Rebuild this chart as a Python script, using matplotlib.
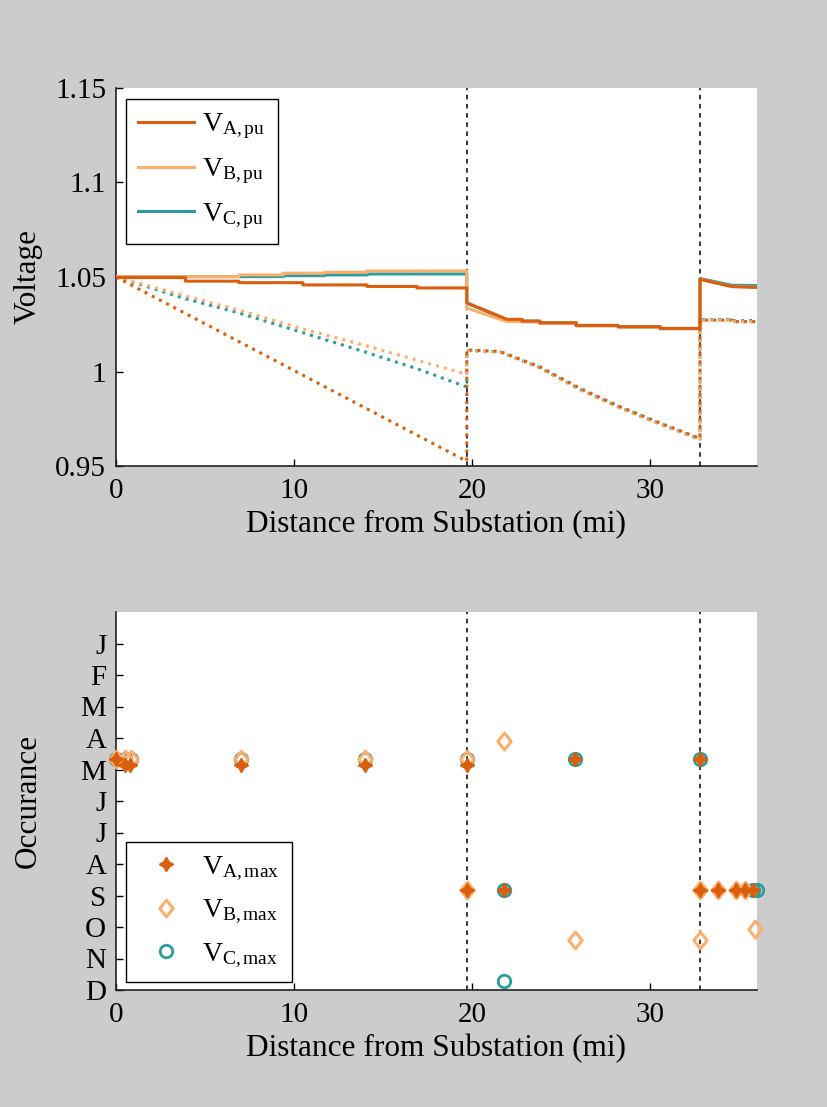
import numpy as np
import matplotlib.pyplot as plt
from matplotlib.path import Path

plt.rcParams['font.family'] = ['Liberation Serif', 'DejaVu Serif']
plt.rcParams['mathtext.fontset'] = 'custom'
plt.rcParams['mathtext.rm'] = 'Liberation Serif'
plt.rcParams['mathtext.it'] = 'Liberation Serif:italic'

c_a = '#d95f0e'
c_b = '#fdae6b'
c_c = '#2c9c9e'

# breaker / regulator positions (mi)
vlines = [19.7, 32.8]

# --- top panel: voltage profiles (solid = with control, dotted = without) ---
va_x = [0, 3.9, 3.9, 6.9, 6.9, 10.5, 10.5, 14.1, 14.1, 16.9, 16.9, 19.7, 19.7, 21.95,
        22.8, 22.8, 23.8, 23.8, 25.84, 25.84, 28.2, 28.2, 30.56, 30.56, 32.8, 32.8, 34.6, 36.0]
va_y = [1.0497, 1.0497, 1.0478, 1.0478, 1.0470, 1.0470, 1.0458, 1.0458, 1.0450, 1.0450,
        1.0442, 1.0442, 1.0364, 1.0276, 1.0276, 1.0267, 1.0267, 1.0258, 1.0258, 1.0244,
        1.0244, 1.0237, 1.0237, 1.0228, 1.0228, 1.0488, 1.0449, 1.0445]

vb_x = [0, 6.9, 6.9, 9.4, 9.4, 11.7, 11.7, 14.1, 14.1, 19.7, 19.7, 21.95,
        22.8, 22.8, 23.8, 23.8, 25.84, 25.84, 28.2, 28.2, 30.56, 30.56, 32.8, 32.8, 34.6, 36.0]
vb_y = [1.0502, 1.0502, 1.0511, 1.0511, 1.0520, 1.0520, 1.0525, 1.0525, 1.0532, 1.0532,
        1.0336, 1.0264, 1.0264, 1.0262, 1.0262, 1.0254, 1.0254, 1.0241, 1.0241, 1.0235,
        1.0235, 1.0226, 1.0226, 1.0488, 1.0450, 1.0446]

vc_x = [0, 6.9, 6.9, 9.4, 9.4, 11.7, 11.7, 14.1, 14.1, 19.7, 19.7, 21.95,
        22.8, 22.8, 23.8, 23.8, 25.84, 25.84, 28.2, 28.2, 30.56, 30.56, 32.8, 32.8, 34.6, 36.0]
vc_y = [1.0502, 1.0502, 1.0502, 1.0502, 1.0507, 1.0507, 1.0511, 1.0511, 1.0516, 1.0516,
        1.0362, 1.0275, 1.0275, 1.0266, 1.0266, 1.0257, 1.0257, 1.0243, 1.0243, 1.0236,
        1.0236, 1.0227, 1.0227, 1.0492, 1.0456, 1.0455]

na_x = [0, 19.7, 19.7, 21.57, 23.8, 26.1, 28.3, 30.6, 32.8, 32.8, 34.6, 34.6, 36.0]
na_y = [1.05, 0.9525, 1.0114, 1.0106, 1.0025, 0.9909, 0.9814, 0.9726, 0.9646, 1.0272,
        1.0272, 1.0264, 1.0264]

nb_x = [0, 3.9, 6.9, 10.5, 14.1, 16.9, 19.7, 19.7, 21.57, 23.8, 26.1, 28.3, 30.6, 32.8,
        32.8, 34.6, 34.6, 36.0]
nb_y = [1.05, 1.0400, 1.0325, 1.0225, 1.0135, 1.0060, 0.9985, 1.0110, 1.0102, 1.0018,
        0.9900, 0.9806, 0.9718, 0.9638, 1.0270, 1.0270, 1.0263, 1.0263]

nc_x = [0, 3.9, 6.9, 10.5, 14.1, 16.9, 19.7, 19.7, 21.57, 23.8, 26.1, 28.3, 30.6, 32.8,
        32.8, 34.6, 34.6, 36.0]
nc_y = [1.05, 1.0385, 1.0310, 1.0205, 1.0100, 1.0015, 0.9918, 1.0112, 1.0104, 1.0020,
        0.9904, 0.9810, 0.9722, 0.9642, 1.0274, 1.0274, 1.0268, 1.0270]

# --- bottom panel: month of maximum voltage (1 = Jan ... 12 = Dec) ---
months = ['J', 'F', 'M', 'A', 'M', 'J', 'J', 'A', 'S', 'O', 'N', 'D']

ma_x = [0, 0.5, 0.8, 7.0, 14.0, 19.7, 25.8, 32.8, 19.7, 21.8, 32.8, 33.8, 34.8, 35.3, 35.8]
ma_m = [4.68, 4.87, 4.87, 4.87, 4.87, 4.87, 4.68, 4.68, 8.84, 8.84, 8.84, 8.84, 8.84, 8.84, 8.84]

mb_x = [0, 0.5, 0.85, 7.0, 14.0, 19.7, 21.8, 25.8, 32.8, 35.9, 19.7, 32.8, 33.8, 34.8, 35.3]
mb_m = [4.68, 4.68, 4.68, 4.68, 4.68, 4.68, 4.1, 10.42, 10.42, 10.05, 8.84, 8.84, 8.84, 8.84, 8.84]

mc_x = [0, 0.5, 0.85, 7.0, 14.0, 19.7, 25.8, 32.8, 21.8, 35.8, 36.0, 21.8]
mc_m = [4.68, 4.68, 4.68, 4.68, 4.68, 4.68, 4.68, 4.68, 8.84, 8.84, 8.84, 11.73]

fig = plt.figure(figsize=(8.27, 11.07), dpi=100, facecolor='#cccccc')
W, H = 827.0, 1107.0
ax1 = fig.add_axes([116 / W, 1 - 466 / H, 641 / W, 378 / H])
ax2 = fig.add_axes([116 / W, 1 - 990 / H, 641 / W, 378 / H])

fs = 21
fl = 22.5

diamond = Path([(0, 1), (0.8, 0), (0, -1), (-0.8, 0), (0, 1)],
               [Path.MOVETO, Path.LINETO, Path.LINETO, Path.LINETO, Path.CLOSEPOLY])
star4 = (4, 1, 0)

def style(ax):
    for s in ['top', 'right']:
        ax.spines[s].set_visible(False)
    for s in ['left', 'bottom']:
        ax.spines[s].set_linewidth(1.2)
        ax.spines[s].set_color('#222222')
    ax.tick_params(direction='in', length=5, width=1, labelsize=fs, pad=7)
    ax.tick_params(axis='x', pad=9)
    ax.set_xlim(0, 36)
    ax.set_xticks([0, 10, 20, 30])
    for x in vlines:
        ax.axvline(x, color='black', lw=1.1, ls=(0, (3, 3)), zorder=1)
    ax.set_xlabel('Distance from Substation (mi)', fontsize=fl, labelpad=4)
    ax.yaxis.set_label_coords(-0.114, 0.5)

# top
lw = 2.2
ax1.plot(vc_x, vc_y, color=c_c, lw=lw, zorder=2)
ax1.plot(vb_x, vb_y, color=c_b, lw=lw, zorder=3)
ax1.plot(va_x, va_y, color=c_a, lw=lw, zorder=4)
ax1.plot(nc_x, nc_y, color=c_c, lw=lw, ls=':', zorder=2)
ax1.plot(nb_x, nb_y, color=c_b, lw=lw, ls=':', zorder=3)
ax1.plot(na_x, na_y, color=c_a, lw=lw, ls=':', zorder=4)
style(ax1)
ax1.set_ylim(0.95, 1.15)
ax1.set_yticks([0.95, 1.0, 1.05, 1.1, 1.15])
ax1.set_yticklabels(['0.95', '1', '1.05', '1.1', '1.15'])
ax1.set_ylabel('Voltage', fontsize=fl)
h1 = [plt.Line2D([], [], color=c, lw=lw) for c in (c_a, c_b, c_c)]
leg1 = ax1.legend(h1, [r'V$_{\mathrm{A,pu}}$', r'V$_{\mathrm{B,pu}}$', r'V$_{\mathrm{C,pu}}$'],
                  loc='upper left', bbox_to_anchor=(0.0156, 0.971), borderaxespad=0,
                  fontsize=20, handlelength=2.0, labelspacing=0.55, fancybox=False,
                  framealpha=1, edgecolor='black', borderpad=0.45, handletextpad=0.3)
leg1.get_frame().set_linewidth(1.0)

# bottom
ms = 9
ax2.plot(mc_x, mc_m, ls='none', marker='o', ms=ms, mfc='none', mec=c_c, mew=2, clip_on=False, zorder=3)
ax2.plot(mb_x, mb_m, ls='none', marker=diamond, ms=ms + 3, mfc='none', mec=c_b, mew=2.2, clip_on=False, zorder=4)
ax2.plot(ma_x, ma_m, ls='none', marker=star4, ms=ms + 1, color=c_a, mec=c_a, mew=1.3, clip_on=False, zorder=5)
style(ax2)
ax2.set_ylim(12, 0)
ax2.set_yticks(range(1, 13))
ax2.set_yticklabels(months)
ax2.set_ylabel('Occurance', fontsize=fl)
h2 = [plt.Line2D([], [], ls='none', marker=star4, ms=ms + 1, color=c_a, mew=1.3),
      plt.Line2D([], [], ls='none', marker=diamond, ms=ms + 3, mfc='none', mec=c_b, mew=2.2),
      plt.Line2D([], [], ls='none', marker='o', ms=ms, mfc='none', mec=c_c, mew=2)]
leg2 = ax2.legend(h2, [r'V$_{\mathrm{A,max}}$', r'V$_{\mathrm{B,max}}$', r'V$_{\mathrm{C,max}}$'],
                  loc='lower left', bbox_to_anchor=(0.0156, 0.021), borderaxespad=0,
                  fontsize=20, handlelength=2.0, labelspacing=0.55, fancybox=False,
                  framealpha=1, edgecolor='black', borderpad=0.45, handletextpad=0.3)
leg2.get_frame().set_linewidth(1.0)

fig.savefig('out.png', dpi=100, facecolor=fig.get_facecolor())
